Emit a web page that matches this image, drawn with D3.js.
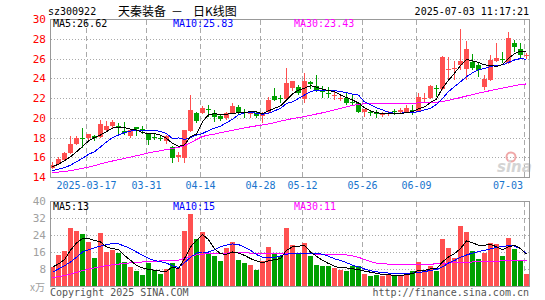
<!DOCTYPE html>
<html>
<head>
<meta charset="utf-8">
<script src="https://cdn.jsdelivr.net/npm/d3@7"></script>
<style>
body { margin: 0; background: #fff; }
text { font-family: "DejaVu Sans Mono", monospace; font-size: 10px; }
</style>
</head>
<body>
<div id="chart"></div>
<script>
// chart size
var width = 545;
var height = 300;

var upColor = '#ff5050';
var downColor = '#00a000';

// trading days shown
var dates = ["2025-03-07",
  "2025-03-10","2025-03-11","2025-03-12","2025-03-13","2025-03-14",
  "2025-03-17","2025-03-18","2025-03-19","2025-03-20","2025-03-21",
  "2025-03-24","2025-03-25","2025-03-26","2025-03-27","2025-03-28",
  "2025-03-31","2025-04-01","2025-04-02","2025-04-03",
  "2025-04-07","2025-04-08","2025-04-09","2025-04-10","2025-04-11",
  "2025-04-14","2025-04-15","2025-04-16","2025-04-17","2025-04-18",
  "2025-04-21","2025-04-22","2025-04-23","2025-04-24","2025-04-25",
  "2025-04-28","2025-04-29","2025-04-30",
  "2025-05-06","2025-05-07","2025-05-08","2025-05-09",
  "2025-05-12","2025-05-13","2025-05-14","2025-05-15","2025-05-16",
  "2025-05-19","2025-05-20","2025-05-21","2025-05-22","2025-05-23",
  "2025-05-26","2025-05-27","2025-05-28","2025-05-29","2025-05-30",
  "2025-06-03","2025-06-04","2025-06-05","2025-06-06",
  "2025-06-09","2025-06-10","2025-06-11","2025-06-12","2025-06-13",
  "2025-06-16","2025-06-17","2025-06-18","2025-06-19","2025-06-20",
  "2025-06-23","2025-06-24","2025-06-25","2025-06-26","2025-06-27",
  "2025-06-30","2025-07-01","2025-07-02","2025-07-03"];

var open = [14.9,15.3,15.7,16.4,17.35,17.95,17.9,18.15,18.1,18.8,
  19.15,19.15,18.65,18.15,19.05,18.85,18.4,18.05,18.0,17.6,
  17.05,16.0,15.9,18.7,20.5,20.45,20.85,20.45,20.15,20.0,
  20.5,21.05,20.6,20.35,20.5,20.2,20.6,22.2,22.0,21.9,
  23.0,23.15,21.9,23.6,23.25,22.75,22.55,22.25,21.95,22.0,
  21.6,21.45,20.6,20.55,20.45,20.3,20.35,20.65,20.6,20.55,
  20.8,20.7,21.95,22.0,23.0,22.9,24.85,24.9,25.35,24.9,
  25.65,25.35,23.1,23.8,25.75,26.0,25.5,27.55,26.95,26.3];
var high = [15.5,16.0,16.5,18.2,18.2,19.0,18.4,18.3,19.8,19.7,
  19.8,19.45,19.6,18.85,19.1,19.15,18.5,18.45,18.2,18.3,
  17.1,16.55,18.8,22.3,20.6,21.2,21.3,20.8,20.4,20.6,
  21.45,21.3,20.85,20.7,20.7,20.6,22.1,23.0,22.3,25.0,
  23.75,23.3,24.5,23.7,24.3,23.2,23.15,22.65,22.3,22.5,
  22.4,21.6,20.9,20.8,20.8,20.6,20.7,20.85,20.95,21.3,
  21.3,22.5,22.5,23.35,23.35,26.3,26.2,25.7,29.0,27.8,
  26.5,25.5,24.3,26.35,27.6,26.7,28.65,27.9,27.55,26.6];
var low = [14.8,15.2,15.6,16.3,17.2,16.9,17.6,17.6,18.0,18.6,
  19.0,18.3,18.3,17.95,18.2,18.4,17.25,17.75,17.6,17.35,
  15.4,15.5,15.4,18.6,19.45,20.4,20.1,19.6,19.7,19.8,
  20.4,20.35,19.95,20.0,19.95,19.45,20.5,21.7,21.5,21.8,
  22.7,22.3,21.5,22.9,22.65,21.95,21.95,21.75,21.7,21.3,
  21.3,20.5,20.1,20.2,19.95,20.1,20.15,20.3,20.45,20.45,
  20.3,20.6,21.6,21.9,22.1,22.8,23.8,23.8,24.85,23.8,
  24.85,24.1,22.8,23.7,25.6,25.5,25.4,26.7,26.1,26.0];
var close = [15.2,15.8,16.4,17.35,18.0,17.85,18.35,17.9,19.35,19.15,
  19.6,18.95,18.5,18.75,18.85,18.75,17.75,17.95,17.8,18.2,
  15.9,16.2,18.8,20.8,19.7,20.95,20.75,20.1,19.85,20.45,
  21.2,20.6,20.45,20.5,20.2,20.35,21.8,21.8,21.9,23.55,
  23.7,22.5,23.7,23.4,22.75,22.65,22.45,22.35,22.05,21.45,
  21.5,20.6,20.85,20.45,20.35,20.4,20.45,20.55,20.75,20.95,
  20.65,22.1,22.05,23.2,22.9,26.2,24.95,25.0,25.75,26.95,
  25.05,24.85,23.9,25.85,26.05,25.9,28.1,27.2,26.35,26.4];

// volume, 10k shares
var volume = [8.9,14.4,16.3,27.3,25.7,24.3,20.7,13.2,24.9,16.0,
  16.8,15.5,11.3,8.9,6.9,5.0,10.8,7.7,5.8,8.2,
  10.8,8.7,25.9,34.1,22.0,25.4,15.2,14.0,11.8,17.9,
  20.7,12.1,10.8,9.7,7.4,11.8,18.4,15.5,14.0,27.3,
  19.5,15.7,20.4,14.1,9.7,9.4,9.4,8.5,7.4,6.9,
  9.3,9.3,5.5,4.6,5.0,4.6,5.5,5.4,5.0,5.0,
  6.9,11.3,7.4,9.3,6.9,22.0,17.9,13.2,28.2,25.4,
  16.3,12.6,15.5,20.2,19.9,14.1,22.6,17.3,11.8,5.5];

// price moving averages
var ma5 = [15.05,15.3,15.65,16.05,16.55,17.1,17.65,18.0,18.25,18.6,
  18.95,19.05,19.0,18.85,18.75,18.5,18.4,18.4,18.25,17.9,
  17.4,17.1,17.25,18.1,18.35,19.6,20.3,20.4,20.35,20.35,
  20.45,20.5,20.55,20.6,20.6,20.4,20.7,20.95,21.2,21.8,
  22.4,22.8,23.0,23.25,23.1,22.9,22.75,22.65,22.3,22.05,
  21.8,21.5,21.0,20.7,20.5,20.45,20.4,20.4,20.4,20.55,
  20.6,20.9,21.1,21.55,21.9,23.0,23.8,24.5,25.3,25.9,
  25.75,25.6,25.35,25.3,25.2,25.4,26.0,26.5,26.75,26.7];
var ma10 = [14.65,14.8,14.95,15.2,15.55,15.9,16.3,16.55,17.05,17.55,
  18.0,18.25,18.5,18.65,18.75,18.75,18.75,18.75,18.6,18.4,
  17.9,17.95,17.8,18.0,18.25,18.4,18.7,18.95,19.15,19.5,
  19.85,20.3,20.5,20.55,20.45,20.35,20.45,20.7,20.95,21.45,
  21.6,21.95,22.3,22.65,22.8,22.8,22.8,22.75,22.65,22.55,
  22.4,22.3,21.6,21.3,21.0,20.8,20.55,20.45,20.45,20.55,
  20.55,20.6,20.8,20.95,21.35,21.95,22.65,23.15,23.65,24.15,
  24.55,24.85,25.0,25.2,25.3,25.35,25.6,25.85,26.0,25.9];
var ma30 = [14.45,14.5,14.55,14.65,14.75,14.88,15.0,15.15,15.32,15.48,
  15.62,15.75,15.88,16.02,16.15,16.3,16.45,16.55,16.65,16.78,
  16.88,17.0,17.2,17.45,17.8,18.1,18.25,18.35,18.48,18.6,
  18.72,18.85,18.98,19.08,19.18,19.27,19.38,19.5,19.65,19.78,
  19.92,20.02,20.12,20.25,20.38,20.5,20.65,20.8,20.95,21.1,
  21.25,21.35,21.42,21.45,21.45,21.45,21.45,21.45,21.45,21.45,
  21.47,21.5,21.52,21.55,21.58,21.65,21.75,21.9,22.05,22.2,
  22.35,22.5,22.62,22.75,22.88,23.0,23.12,23.25,23.35,23.43];

// volume moving averages
var vma5 = [8.9,10.4,12.4,16.8,20.3,22.3,22.3,21.5,20.7,18.4,
  17.6,17.1,14.4,12.1,9.7,8.5,7.8,7.4,7.0,7.0,
  8.9,8.1,12.9,18.4,21.5,24.2,21.8,17.6,15.2,14.9,
  16.0,15.5,14.4,12.9,11.8,10.9,11.8,12.4,12.9,16.8,
  18.4,18.7,19.2,16.0,14.0,12.1,10.6,9.3,8.5,8.5,
  8.1,7.7,7.0,6.5,6.0,5.4,5.4,4.9,4.9,5.4,
  5.8,7.4,7.4,8.1,8.1,11.3,13.7,15.2,17.6,21.2,
  20.3,19.2,19.2,19.7,18.4,17.1,18.4,19.2,17.6,15.0];
var vma10 = [6.5,8.0,9.5,11.3,13.5,16.0,17.0,18.0,18.8,19.5,
  19.9,19.8,18.8,17.6,16.0,14.5,13.0,12.0,11.5,10.8,
  9.5,8.8,11.0,13.5,15.5,16.0,16.0,17.0,18.5,19.2,
  19.8,19.5,18.2,16.8,14.8,13.5,13.2,13.5,14.2,15.0,
  15.2,15.4,15.5,15.5,15.3,15.0,14.0,12.8,12.0,11.0,
  9.8,9.0,8.0,7.2,6.7,6.3,6.1,6.0,6.0,6.0,
  6.1,6.3,6.8,7.3,7.8,9.0,10.8,12.0,13.5,14.6,
  15.5,16.2,16.8,17.5,18.2,18.5,19.0,18.8,17.5,15.2];
var vma30 = [4.0,4.4,4.9,5.6,6.4,7.2,7.9,8.5,9.1,9.6,
  10.0,10.3,10.6,10.9,11.1,11.3,11.5,11.6,11.8,11.9,
  12.0,12.2,13.0,14.0,14.6,15.0,15.2,15.3,15.4,15.5,
  15.6,15.6,15.6,15.5,15.4,15.3,15.3,15.3,15.2,15.2,
  15.2,15.1,15.1,15.1,15.0,15.0,15.0,14.9,14.8,14.6,
  14.2,13.5,12.5,11.5,10.8,10.5,10.3,10.2,10.2,10.2,
  10.2,10.2,10.3,10.3,10.4,10.6,10.8,10.9,11.1,11.2,
  11.3,11.4,11.5,11.6,11.7,11.8,11.9,12.0,12.0,12.1];

// legend values and ticks
var priceLegend = ["MA5:26.62", "MA10:25.83", "MA30:23.43"];
var volumeLegend = ["MA5:13", "MA10:15", "MA30:11"];
var legendColors = ["#000000", "#0000ff", "#ff00ff"];
var priceTicks = [14, 16, 18, 20, 22, 24, 26, 28, 30];
var volumeTicks = [8, 16, 24, 32, 40];
var tickDates = ["2025-03-17","2025-03-31","2025-04-14","2025-04-28","2025-05-12","2025-05-26","2025-06-09","2025-07-03"];
var tickLabels = ["2025-03-17","03-31","04-14","04-28","05-12","05-26","06-09","07-03"];

var svg = d3.select("#chart")
    .append("svg")
    .attr("width", width)
    .attr("height", height);

var left = 50, right = 530;

var x = d3.scaleBand().domain(dates).range([left, right]);
var yP = d3.scaleLinear().domain([14, 30]).range([177, 19]);
var yV = d3.scaleLinear().domain([0, 40]).range([286, 201]);

var rows = dates.map(function(d, i) {
    return {date: d, o: open[i], h: high[i], l: low[i], c: close[i], v: volume[i]};
});
function col(d) { return d.c >= d.o ? upColor : downColor; }

// title row
svg.append("text").attr("x", 48).attr("y", 15).text("sz300922");
svg.append("text").attr("x", 118).attr("y", 16)
    .style("font-family", "'Noto Sans CJK SC'").style("font-size", "12px")
    .text("天秦装备");
svg.append("text").attr("x", 171).attr("y", 16)
    .style("font-family", "'Noto Sans CJK SC'").style("font-size", "12px")
    .text("－");
svg.append("text").attr("x", 193).attr("y", 16)
    .style("font-family", "'Noto Sans CJK SC'").style("font-size", "12px")
    .text("日K线图");
svg.append("text").attr("x", 529).attr("y", 15)
    .attr("text-anchor", "end").text("2025-07-03 11:17:21");

// grids
var grid = svg.append("g").attr("shape-rendering", "crispEdges");
grid.selectAll(".hp").data(priceTicks.slice(1, -1)).enter().append("line")
    .attr("x1", left + 1).attr("x2", right - 1)
    .attr("y1", function(d) { return Math.round(yP(d)) + 0.5; })
    .attr("y2", function(d) { return Math.round(yP(d)) + 0.5; })
    .attr("stroke", "#aaa").attr("stroke-dasharray", "1,2");
grid.selectAll(".hv").data(volumeTicks.slice(0, -1)).enter().append("line")
    .attr("x1", left + 1).attr("x2", right - 1)
    .attr("y1", function(d) { return Math.round(yV(d)) + 0.5; })
    .attr("y2", function(d) { return Math.round(yV(d)) + 0.5; })
    .attr("stroke", "#aaa").attr("stroke-dasharray", "1,2");
[[20, 177], [202, 286]].forEach(function(r) {
    grid.selectAll(null).data(tickDates).enter().append("line")
        .attr("x1", function(d) { return x(d) + 0.5; })
        .attr("x2", function(d) { return x(d) + 0.5; })
        .attr("y1", r[0]).attr("y2", r[1])
        .attr("stroke", "#aaa").attr("stroke-dasharray", "5,3");
});

// sina watermark
svg.append("circle").attr("cx", 511).attr("cy", 157).attr("r", 4.5)
    .attr("fill", "none").attr("stroke", "#f0a8a8").attr("stroke-width", 2);
svg.append("text").attr("x", 497).attr("y", 172)
    .style("font-family", "'DejaVu Sans'").style("font-size", "15px")
    .style("font-style", "italic").style("font-weight", "bold")
    .attr("fill", "#d4d4d4").text("sina");

// candles
var candles = svg.append("g").attr("shape-rendering", "crispEdges");
candles.selectAll(".wick").data(rows).enter().append("line")
    .attr("x1", function(d) { return x(d.date) + 2.5; })
    .attr("x2", function(d) { return x(d.date) + 2.5; })
    .attr("y1", function(d) { return yP(d.h); })
    .attr("y2", function(d) { return yP(d.l); })
    .attr("stroke", col);
candles.selectAll(".body").data(rows).enter().append("rect")
    .attr("x", function(d) { return x(d.date); })
    .attr("width", 5)
    .attr("y", function(d) { return yP(Math.max(d.o, d.c)); })
    .attr("height", function(d) { return Math.max(1, Math.abs(yP(d.o) - yP(d.c))); })
    .attr("fill", col);

// volume bars
candles.selectAll(".vol").data(rows).enter().append("rect")
    .attr("x", function(d) { return x(d.date); })
    .attr("width", 5)
    .attr("y", function(d) { return yV(d.v); })
    .attr("height", function(d) { return yV(0) - yV(d.v); })
    .attr("fill", col);

// moving average lines
function drawLine(values, yScale, color) {
    var line = d3.line()
        .x(function(d, i) { return x(dates[i]) + 2.5; })
        .y(function(d) { return yScale(d); });
    svg.append("path").datum(values)
        .attr("d", line)
        .attr("fill", "none")
        .attr("stroke", color)
        .attr("stroke-width", 1)
        .attr("shape-rendering", "crispEdges");
}
drawLine(ma30, yP, legendColors[2]);
drawLine(ma10, yP, legendColors[1]);
drawLine(ma5, yP, legendColors[0]);
drawLine(vma30, yV, legendColors[2]);
drawLine(vma10, yV, legendColors[1]);
drawLine(vma5, yV, legendColors[0]);

// frames
svg.append("rect").attr("x", 50.5).attr("y", 19.5).attr("width", 479).attr("height", 158)
    .attr("fill", "none").attr("stroke", "#999").attr("shape-rendering", "crispEdges");
svg.append("rect").attr("x", 50.5).attr("y", 201.5).attr("width", 479).attr("height", 85)
    .attr("fill", "none").attr("stroke", "#999").attr("shape-rendering", "crispEdges");

// legends
var legendX = [53, 173, 294];
priceLegend.forEach(function(t, i) {
    svg.append("text").attr("x", legendX[i]).attr("y", 27).attr("fill", legendColors[i]).text(t);
});
volumeLegend.forEach(function(t, i) {
    svg.append("text").attr("x", legendX[i]).attr("y", 210).attr("fill", legendColors[i]).text(t);
});

// axis labels
svg.selectAll(".pl").data(priceTicks).enter().append("text")
    .attr("x", 46).attr("y", function(d) { return yP(d) + 4; })
    .attr("text-anchor", "end").attr("fill", "#ff0000")
    .style("font-size", "11px")
    .text(function(d) { return d; });
svg.selectAll(".vl").data(volumeTicks).enter().append("text")
    .attr("x", 46).attr("y", function(d) { return yV(d) + 4; })
    .attr("text-anchor", "end").attr("fill", "#a0a0a0")
    .style("font-size", "11px")
    .text(function(d) { return d; });
svg.append("text").attr("x", 45).attr("y", 291).attr("text-anchor", "end")
    .attr("fill", "#a0a0a0").style("font-family", "'Noto Sans CJK SC'")
    .style("font-size", "10px").text("x万");

svg.selectAll(".dl").data(tickDates).enter().append("text")
    .attr("x", function(d) { var p = x(d) + 0.5; return p + 15 > 523 ? 523 : p; })
    .attr("y", 189)
    .attr("text-anchor", function(d) { return x(d) + 15.5 > 523 ? "end" : "middle"; })
    .attr("fill", "#1874cd")
    .text(function(d, i) { return tickLabels[i]; });

// footer
svg.append("text").attr("x", 50).attr("y", 296).attr("fill", "#555").text("Copyright 2025 SINA.COM");
svg.append("text").attr("x", 529).attr("y", 296).attr("text-anchor", "end").attr("fill", "#555")
    .text("http://finance.sina.com.cn");
</script>
</body>
</html>
